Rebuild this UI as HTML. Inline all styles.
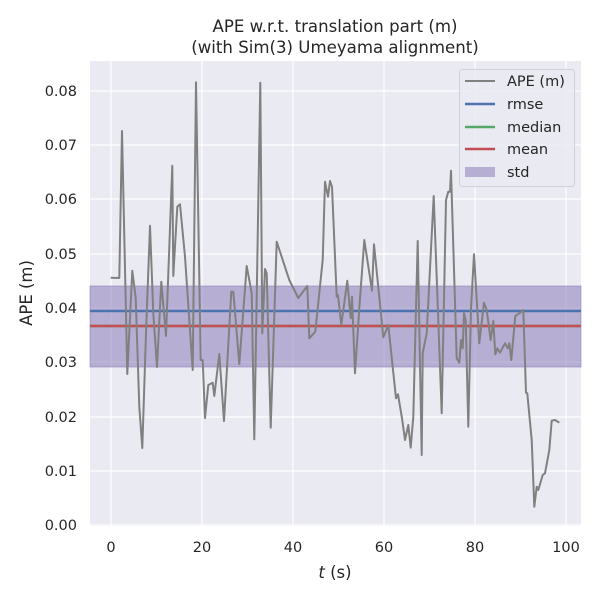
<!DOCTYPE html>
<html><head><style>body{margin:0;background:#fff}</style></head><body>
<svg width="600" height="600" xmlns="http://www.w3.org/2000/svg" font-family="DejaVu Sans, Liberation Sans, sans-serif" fill="#262626">
<rect x="0" y="0" width="600" height="600" fill="#fff"/>
<rect x="90" y="61" width="491" height="465" fill="#eaeaf2"/>
<g stroke="#fff" stroke-width="1.2">
<line x1="111" y1="61" x2="111" y2="526"/><line x1="202" y1="61" x2="202" y2="526"/><line x1="293" y1="61" x2="293" y2="526"/><line x1="384" y1="61" x2="384" y2="526"/><line x1="475" y1="61" x2="475" y2="526"/><line x1="566" y1="61" x2="566" y2="526"/>
<line x1="90" y1="525" x2="581" y2="525"/><line x1="90" y1="471" x2="581" y2="471"/><line x1="90" y1="417" x2="581" y2="417"/><line x1="90" y1="362" x2="581" y2="362"/><line x1="90" y1="308" x2="581" y2="308"/><line x1="90" y1="254" x2="581" y2="254"/><line x1="90" y1="199" x2="581" y2="199"/><line x1="90" y1="145" x2="581" y2="145"/><line x1="90" y1="91" x2="581" y2="91"/>
</g>
<rect x="90" y="286" width="491" height="81" fill="#8172b3" fill-opacity="0.5" stroke="#8172b3" stroke-opacity="0.5"/>
<line x1="90" y1="326" x2="581" y2="326" stroke="#55a868" stroke-width="2.5"/>
<line x1="90" y1="311" x2="581" y2="311" stroke="#4c72b0" stroke-width="2.5"/>
<line x1="90" y1="326" x2="581" y2="326" stroke="#c44e52" stroke-width="2.5"/>
<polyline fill="none" stroke="#808080" stroke-width="2" stroke-linejoin="round" points="110.7,277.7 119.3,278 122,131 127.3,374 132.3,270.7 135.7,298 139.3,406.7 142.3,448 146,333 150,225.7 153.3,313 157,367 161.3,281.7 166,336 172.3,165.7 173.3,276 177.3,206.7 180,204.3 185,256.7 192.7,370 196,82.3 200.7,360 202.7,360 205,418 208.3,385 212.7,382.7 214.3,396 219.3,354 224,421 231.3,291.7 233.3,291.7 239.3,364 246.7,266 251.7,293.3 254.3,439.3 260.3,82.7 262.3,333.3 265,269 266.7,273.3 270.7,427.7 276.7,241.7 289.3,280 298.3,298 307.3,286 309.3,338.3 315.3,331.7 322.7,260 325,181.7 328,196.7 330,181 332,186.7 336.7,296.7 338,295 341.3,325 347.3,280.7 350.7,318.3 352,296.7 355,373.3 359.3,308.3 364.3,240 372,290.7 374,244.3 383.3,337.3 388.3,325 396,398.3 398,394.3 402,418.3 405,440 408.3,425 410.7,447.7 413.3,416.7 417.7,241 421.7,455 422.7,353.3 426.7,333.3 433.7,196 441.7,413.3 446,200 448.3,191.7 450,191.7 451,170.7 456.7,358.3 459.3,362.7 461,340 462.7,348.3 464,313.3 465.7,320 468.3,426.7 471,308.3 474,254.3 479.3,343.3 484,302.7 486.7,310 490.7,340 493.3,321 495.3,354.3 497.3,348.3 500,352.7 505,343.3 507.7,348.3 509.3,343.3 511.3,360 515.3,316 519.3,313.3 523.3,310 526,392.7 527.3,393.3 531.7,440 534.3,506.7 536.7,486.7 538.3,490 542.7,475 545,473.3 549.3,450 551.7,420.7 555,420 559.3,422.7"/>
<g font-size="14.5" text-anchor="middle">
<text x="111" y="552">0</text><text x="202" y="552">20</text><text x="293" y="552">40</text><text x="384" y="552">60</text><text x="475" y="552">80</text><text x="566" y="552">100</text>
</g>
<g font-size="14.5" text-anchor="end">
<text x="77" y="530">0.00</text><text x="77" y="476">0.01</text><text x="77" y="422">0.02</text><text x="77" y="367">0.03</text><text x="77" y="313">0.04</text><text x="77" y="259">0.05</text><text x="77" y="204">0.06</text><text x="77" y="150">0.07</text><text x="77" y="96">0.08</text>
</g>
<text x="335" y="578" font-size="16.5" text-anchor="middle"><tspan font-style="italic">t</tspan> (s)</text>
<text transform="translate(32,293) rotate(-90)" font-size="16.5" text-anchor="middle">APE (m)</text>
<text x="335" y="32" font-size="16.6" text-anchor="middle">APE w.r.t. translation part (m)</text>
<text x="335" y="53" font-size="16.6" text-anchor="middle">(with Sim(3) Umeyama alignment)</text>
<rect x="459.5" y="69.5" width="115" height="117" rx="3" fill="#eaeaf2" fill-opacity="0.85" stroke="#d0d0d8"/>
<line x1="465" y1="81" x2="495" y2="81" stroke="#808080" stroke-width="2"/>
<line x1="465" y1="104" x2="495" y2="104" stroke="#4c72b0" stroke-width="2.5"/>
<line x1="465" y1="127" x2="495" y2="127" stroke="#55a868" stroke-width="2.5"/>
<line x1="465" y1="149" x2="495" y2="149" stroke="#c44e52" stroke-width="2.5"/>
<rect x="465" y="167" width="30" height="10" fill="#8172b3" fill-opacity="0.5"/>
<g font-size="14.5">
<text x="507" y="86">APE (m)</text><text x="507" y="109">rmse</text><text x="507" y="132">median</text><text x="507" y="154">mean</text><text x="507" y="177">std</text>
</g>
</svg>
</body></html>
